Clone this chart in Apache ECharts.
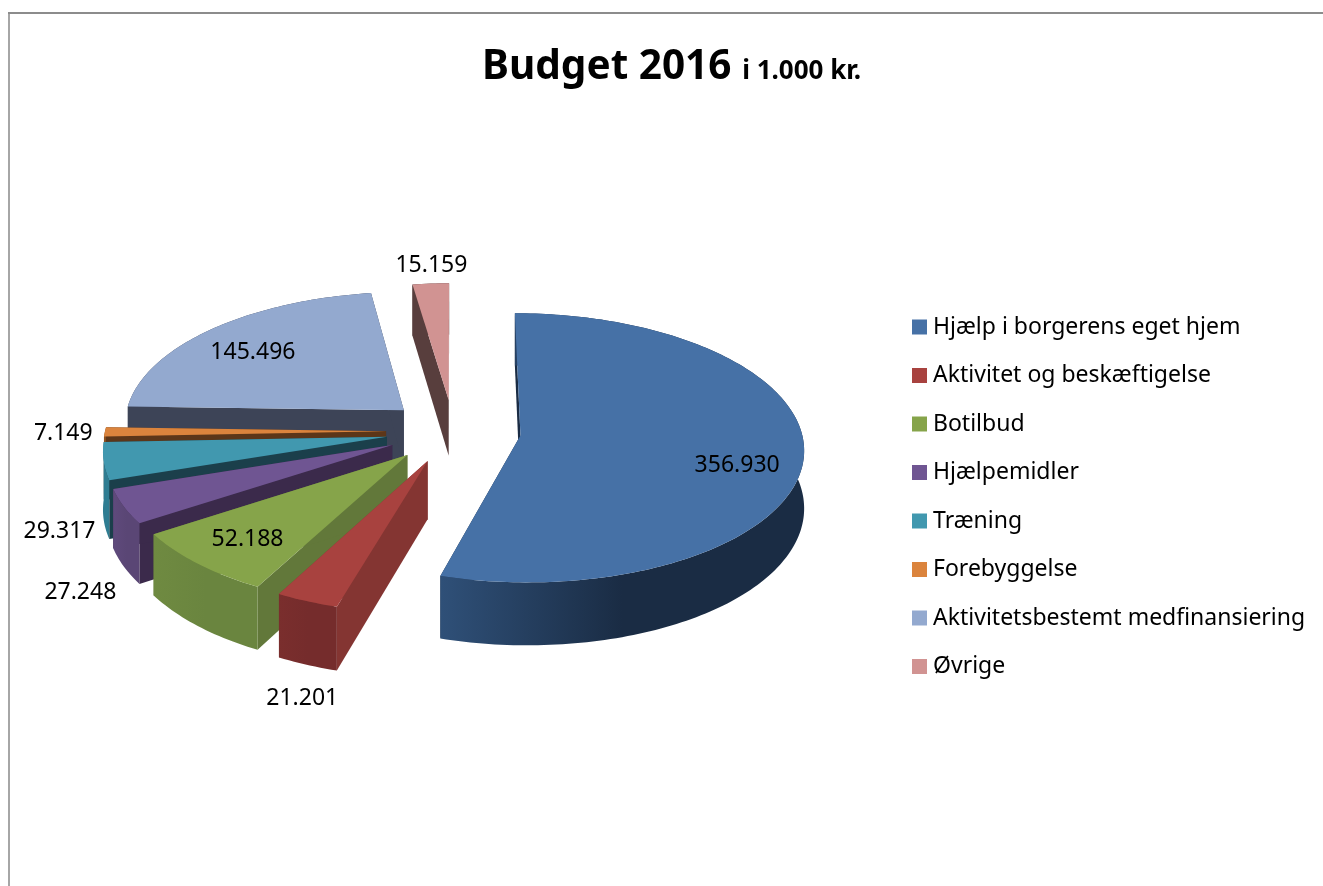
<!DOCTYPE html>
<html style="height: 100%">

<head>
    <meta charset="UTF-8" />
    <script type="text/javascript" src="https://cdn.jsdelivr.net/npm/echarts@6/dist/echarts.min.js"></script>
</head>

<body style="height: 100%; margin: 0; background: #fff">
    <div id="container" style="height: 100%"></div>
    <script>
        var categories = ["Hjælp i borgerens eget hjem", "Aktivitet og beskæftigelse", "Botilbud", "Hjælpemidler",
            "Træning", "Forebyggelse", "Aktivitetsbestemt medfinansiering", "Øvrige"];
        var budget = [356930, 21201, 52188, 27248, 29317, 7149, 145496, 15159];
        var valueLabels = ["356.930", "21.201", "52.188", "27.248", "29.317", "7.149", "145.496", "15.159"];

        // face colours per slice
        var topColors = ["#4671a6", "#a8423f", "#86a44a", "#6f5592", "#4198af", "#db843d", "#93a9cf", "#d19392"];
        var wallColors = ["#1a2c44", "#843532", "#62783a", "#3b2a4b", "#1b3f4b", "#5c3619", "#3d4457", "#583e3d"];
        var rimLeftColors = ["#2f5078", "#7a2e2d", "#6f8a41", "#5f4a7c", "#2f7d92", "#8a4f20", "#3d4457", "#583e3d"];
        var rimRightColors = ["#1a2c44", "#752c2c", "#6a853f", "#5a4675", "#2f7d92", "#8a4f20", "#3d4457", "#583e3d"];

        // where the value label sits: radius from the slice tip, whether it drops below the rim, then a small nudge
        var labelRadius = [0.77, 1.2, 0.83, 1.2, 1.17, 1.13, 0.71, 1.02];
        var labelBelow = [0, 1, 0, 1, 1, 0, 0, 0];
        var labelNudge = [[-1, 15], [22, 1], [12, -5], [13, 13], [5, 8], [-5, 1], [-12, 1], [1, -16]];

        // pie geometry, a flat disc seen through a weak perspective
        var CX = 453.5, CY = 431, R = 281, TILT = 0.472, PERSP = 0.091, DEPTH = 57, EXPLODE = 0.24;

        var total = budget.reduce(function (a, b) { return a + b; }, 0);
        var toAngle = function (v) { return v / total * Math.PI * 2; };
        var startAngles = [];
        budget.reduce(function (acc, v, i) { startAngles[i] = acc; return acc + toAngle(v); }, 0);

        function project(u, v, drop) {
            var f = 1 / (1 - PERSP * v);
            return [CX + R * u * f, CY + R * TILT * v * f + (drop || 0) * f];
        }

        function renderSlice(i, value) {
            var a0 = startAngles[i], a1 = a0 + toAngle(value), mid = (a0 + a1) / 2;
            var ou = EXPLODE * Math.sin(mid), ov = -EXPLODE * Math.cos(mid);
            var steps = Math.max(6, Math.ceil((a1 - a0) / 0.02));
            var arcTop = [], arcBottom = [];
            for (var s = 0; s <= steps; s++) {
                var a = a0 + (a1 - a0) * s / steps;
                var u = ou + Math.sin(a), v = ov - Math.cos(a);
                arcTop.push(project(u, v, 0));
                arcBottom.push(project(u, v, DEPTH));
            }
            var tip = project(ou, ov, 0), tipBottom = project(ou, ov, DEPTH);
            var poly = function (points, fill) {
                return { type: "polygon", shape: { points: points }, style: { fill: fill, stroke: null }, silent: true };
            };
            var xs = arcTop.map(function (p) { return p[0]; });
            var rimFill = new echarts.graphic.LinearGradient(Math.min.apply(null, xs), 0, Math.max.apply(null, xs), 0, [
                { offset: 0, color: rimLeftColors[i] },
                { offset: 0.5, color: rimRightColors[i] },
                { offset: 1, color: rimRightColors[i] }
            ], true);
            var lr = labelRadius[i];
            var lp = project(ou + lr * Math.sin(mid), ov - lr * Math.cos(mid), labelBelow[i] ? DEPTH : 0);
            return {
                type: "group",
                children: [
                    poly([tip, arcTop[0], arcBottom[0], tipBottom], wallColors[i]),
                    poly([tip, arcTop[steps], arcBottom[steps], tipBottom], wallColors[i]),
                    poly(arcTop.concat(arcBottom.slice().reverse()), rimFill),
                    poly([tip].concat(arcTop), topColors[i]),
                    {
                        type: "text", silent: true, z2: 100,
                        style: {
                            x: lp[0] + labelNudge[i][0], y: lp[1] + labelNudge[i][1], text: valueLabels[i], fill: "#000",
                            align: "center", verticalAlign: "middle",
                            fontSize: 23, fontFamily: "Noto Sans"
                        }
                    }
                ]
            };
        }

        var chart = echarts.init(document.getElementById("container"));

        var series = categories.map(function (name, i) {
            return {
                type: "custom",
                name: name,
                coordinateSystem: "none",
                z: 10 - i,
                itemStyle: { color: topColors[i] },
                data: [[budget[i]]],
                renderItem: function (params, api) { return renderSlice(i, api.value(0)); }
            };
        });

        chart.setOption({
            animation: false,
            title: {
                left: 477, top: 42,
                text: "{a|Budget 2016}{b| i 1.000 kr.}",
                textStyle: {
                    rich: {
                        a: { fontSize: 40.5, fontWeight: "bold", fontFamily: "Noto Sans", color: "#000" },
                        b: { fontSize: 26, fontWeight: "bold", fontFamily: "Noto Sans", color: "#000", padding: [8, 0, 0, 4] }
                    }
                }
            },
            legend: {
                orient: "vertical",
                left: 907, top: 308,
                icon: "rect",
                itemWidth: 15, itemHeight: 15,
                itemGap: 20.5,
                selectedMode: false,
                textStyle: { fontSize: 23, lineHeight: 28, fontFamily: "Noto Sans", color: "#000", padding: [0, 0, 0, 1] },
                data: categories
            },
            graphic: [
                { type: "line", silent: true, shape: { x1: 9, y1: 886, x2: 9, y2: 13 }, style: { stroke: "#a6a6a6", lineWidth: 2 } },
                { type: "line", silent: true, shape: { x1: 8, y1: 13, x2: 1323, y2: 13 }, style: { stroke: "#8c8c8c", lineWidth: 2 } }
            ],
            series: series
        });
    </script>
</body>

</html>
